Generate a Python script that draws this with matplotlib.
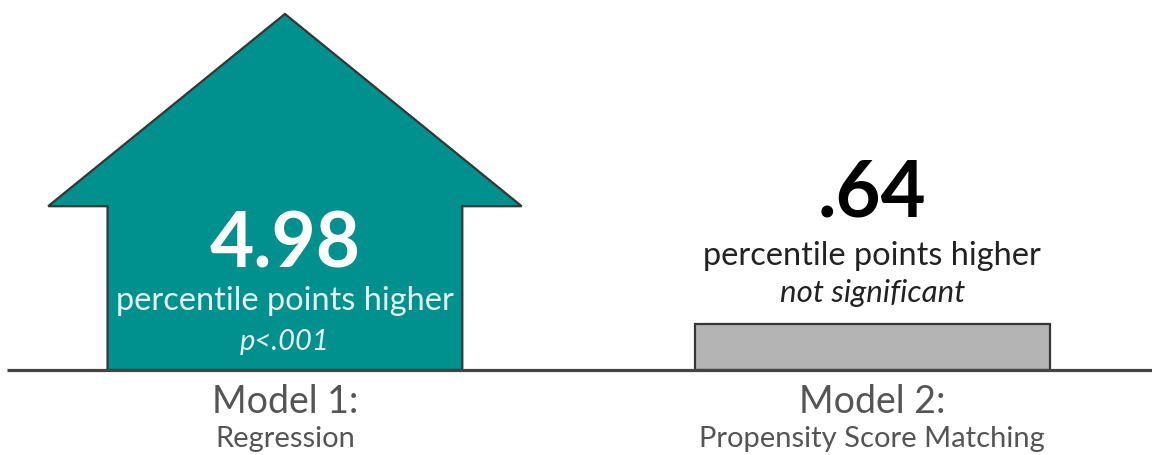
import matplotlib
matplotlib.use("Agg")
import matplotlib.pyplot as plt
from matplotlib.patches import Polygon, Rectangle

# values (percentile points higher)
models = ["Model 1:", "Model 2:"]
methods = ["Regression", "Propensity Score Matching"]
values = [4.98, 0.64]
value_labels = ["4.98", ".64"]
sig_labels = ["p<.001", "not significant"]
unit_label = "percentile points higher"

TEAL = "#00918e"
GRAY = "#b4b4b4"
EDGE = "#363636"
LABEL = "#555555"

plt.rcParams["font.family"] = ["Lato", "DejaVu Sans"]

fig = plt.figure(figsize=(11.52, 4.55), dpi=100)
ax = fig.add_axes([0, 0, 1, 1])
ax.axis("off")
ax.set_xlim(-0.485, 1.476)
ax.set_ylim(-1.189, 5.175)

body_w = 0.302
head_w = 0.403
shoulder = 0.46

# Model 1: house-shaped arrow
x0 = 0
h = values[0]
pts = [(x0 - body_w, 0), (x0 - body_w, h * shoulder), (x0 - head_w, h * shoulder),
       (x0, h), (x0 + head_w, h * shoulder), (x0 + body_w, h * shoulder),
       (x0 + body_w, 0)]
ax.add_patch(Polygon(pts, closed=True, facecolor=TEAL, edgecolor=EDGE,
                     linewidth=1.6, joinstyle="miter", zorder=2))

# Model 2: flat bar
x1 = 1
ax.add_patch(Rectangle((x1 - body_w, 0), 2 * body_w, values[1], facecolor=GRAY,
                       edgecolor=EDGE, linewidth=1.6, zorder=2))

# baseline
ax.plot([-0.473, 1.476], [0, 0], color="#444444", linewidth=2.3, zorder=3,
        solid_capstyle="butt")

# labels inside the house
ax.text(x0, 1.43, value_labels[0], color="white", fontsize=55, fontweight="bold",
        ha="center", va="baseline", zorder=4)
ax.text(x0, 0.84, unit_label, color="#e6f3f2", fontsize=23.4, ha="center",
        va="baseline", zorder=4)
ax.text(x0, 0.28, sig_labels[0], color="#e6f3f2", fontsize=21, style="italic",
        ha="center", va="baseline", zorder=4)

# labels above the bar
ax.text(x1, 2.14, value_labels[1], color="black", fontsize=56, fontweight="bold",
        ha="center", va="baseline", zorder=4)
ax.text(x1, 1.47, unit_label, color="#222222", fontsize=23.4, ha="center",
        va="baseline", zorder=4)
ax.text(x1, 0.95, sig_labels[1], color="#222222", fontsize=22.5, style="italic",
        ha="center", va="baseline", zorder=4)

# category labels
for x, m, s in zip([x0, x1], models, methods):
    ax.text(x, -0.60, m, color=LABEL, fontsize=27, ha="center", va="baseline")
    ax.text(x, -1.08, s, color=LABEL, fontsize=21, ha="center", va="baseline")

fig.savefig("out.png", dpi=100, facecolor="white")
